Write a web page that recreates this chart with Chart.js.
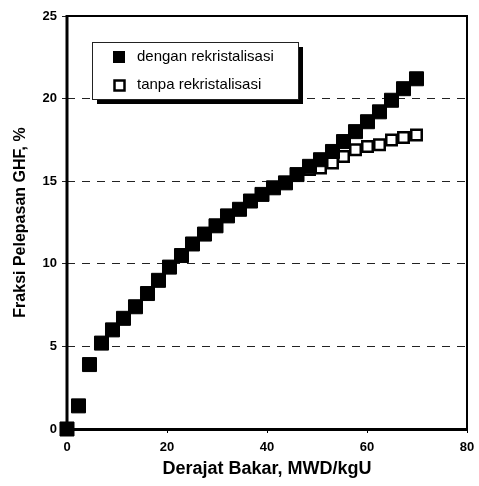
<!DOCTYPE html>
<html>
<head>
<meta charset="utf-8">
<script src="https://cdn.jsdelivr.net/npm/chart.js@4/dist/chart.umd.min.js"></script>
<style>
  html, body { margin: 0; padding: 0; background: #fff; }
  canvas { display: block; }
</style>
</head>
<body>
<canvas id="grafik" width="479" height="486"></canvas>
<script>
// derajat bakar (MWD/kgU)
const derajatBakar = [0, 2.3, 4.5, 6.9, 9.1, 11.3, 13.7, 16.1, 18.3, 20.5, 22.9,
    25.1, 27.5, 29.8, 32.1, 34.5, 36.7, 39.0, 41.3, 43.7, 46.0,
    48.5, 50.7, 53.1, 55.3, 57.7, 60.1, 62.5, 64.9, 67.3, 69.9];

// fraksi pelepasan GHF (%) dengan rekristalisasi
const denganRekristalisasi = [0, 1.4, 3.9, 5.2, 6.0, 6.7, 7.4, 8.2, 9.0, 9.8, 10.5,
    11.2, 11.8, 12.3, 12.9, 13.3, 13.8, 14.2, 14.6, 14.9, 15.4,
    15.9, 16.3, 16.8, 17.4, 18.0, 18.6, 19.2, 19.9, 20.6, 21.2];

// fraksi pelepasan GHF (%) tanpa rekristalisasi
const tanpaRekristalisasi = [0, 1.4, 3.9, 5.2, 6.0, 6.7, 7.4, 8.2, 9.0, 9.8, 10.5,
    11.2, 11.8, 12.3, 12.9, 13.3, 13.8, 14.2, 14.6, 14.9, 15.4,
    15.7, 15.8, 16.1, 16.5, 16.9, 17.1, 17.2, 17.5, 17.65, 17.8];

const labelSeri = ['dengan rekristalisasi', 'tanpa rekristalisasi'];
const xTicks = [0, 20, 40, 60, 80];
const yTicks = [0, 5, 10, 15, 20, 25];

const FONT = "'Liberation Sans', Arial, sans-serif";

function toPoints(xs, ys) {
    return xs.map((x, i) => ({ x: x, y: ys[i] }));
}

// kotak plot: garis sumbu kiri tebal, atas dan kanan
const bingkaiPlot = {
    id: 'bingkaiPlot',
    beforeDatasetsDraw(chart) {
        const { ctx, chartArea: a } = chart;
        ctx.save();
        ctx.setLineDash([]);
        ctx.strokeStyle = '#000';
        ctx.lineWidth = 2;
        ctx.beginPath();
        ctx.moveTo(a.left, a.top);
        ctx.lineTo(a.right, a.top);
        ctx.lineTo(a.right, a.bottom);
        ctx.stroke();
        ctx.lineWidth = 3;
        ctx.beginPath();
        ctx.moveTo(a.left, a.top - 1);
        ctx.lineTo(a.left, a.bottom + 1.5);
        ctx.stroke();
        ctx.restore();
    }
};

// legenda dengan bayangan
const legendaBayangan = {
    id: 'legendaBayangan',
    afterDraw(chart) {
        const ctx = chart.ctx;
        const x = 92, y = 42, w = 206, h = 57;
        ctx.save();
        ctx.fillStyle = '#000';
        ctx.fillRect(x + 5, y + 5, w, h);
        ctx.fillStyle = '#fff';
        ctx.fillRect(x, y, w, h);
        ctx.strokeStyle = '#222';
        ctx.lineWidth = 1;
        ctx.strokeRect(x + 0.5, y + 0.5, w, h);

        ctx.fillStyle = '#000';
        ctx.fillRect(113, 51, 12, 12);
        ctx.lineWidth = 2.5;
        ctx.strokeStyle = '#000';
        ctx.strokeRect(114.5, 80.5, 10, 10);

        ctx.font = '15px ' + FONT;
        ctx.textBaseline = 'middle';
        ctx.fillText(labelSeri[0], 137, 57);
        ctx.fillText(labelSeri[1], 137, 85);
        ctx.restore();
    }
};

const ctx = document.getElementById('grafik').getContext('2d');
const chart = new Chart(ctx, {
    type: 'scatter',
    data: {
        datasets: [{
            label: labelSeri[0],
            data: toPoints(derajatBakar, denganRekristalisasi),
            pointStyle: 'rect',
            pointRadius: 9.9,
            pointHoverRadius: 9.9,
            backgroundColor: '#000',
            borderColor: '#000',
            borderWidth: 1,
            clip: false
        }, {
            label: labelSeri[1],
            data: toPoints(derajatBakar, tanpaRekristalisasi),
            pointStyle: 'rect',
            pointRadius: 7.4,
            pointHoverRadius: 7.4,
            backgroundColor: '#fff',
            borderColor: '#000',
            borderWidth: 2.5,
            clip: false
        }]
    },
    options: {
        responsive: false,
        animation: false,
        layout: { padding: { top: 16, right: 12, left: 0, bottom: 0 } },
        plugins: {
            legend: { display: false },
            tooltip: { enabled: false }
        },
        scales: {
            x: {
                type: 'linear',
                min: 0,
                max: 80,
                afterFit(scale) {
                    scale.height = 57;
                    scale.paddingLeft = 0;
                    scale.paddingRight = 0;
                },
                afterBuildTicks(scale) { scale.ticks = xTicks.map(v => ({ value: v })); },
                border: { color: '#000', width: 3 },
                grid: {
                    drawOnChartArea: false,
                    tickLength: 4,
                    tickColor: '#000',
                    tickWidth: 1
                },
                ticks: {
                    padding: 7,
                    color: '#000',
                    maxRotation: 0,
                    font: { family: FONT, size: 13, weight: 'bold' }
                },
                title: {
                    display: true,
                    text: 'Derajat Bakar, MWD/kgU',
                    color: '#000',
                    padding: { bottom: 6 },
                    font: { family: FONT, size: 18, weight: 'bold' }
                }
            },
            y: {
                type: 'linear',
                min: 0,
                max: 25,
                afterFit(scale) {
                    scale.width = 67;
                    scale.paddingTop = 0;
                    scale.paddingBottom = 0;
                },
                afterBuildTicks(scale) { scale.ticks = yTicks.map(v => ({ value: v })); },
                border: { display: false, dash: [8, 7] },
                grid: {
                    color: c => (c.tick && (c.tick.value === 0 || c.tick.value === 25)) ? 'rgba(0,0,0,0)' : '#222',
                    lineWidth: 1,
                    tickLength: 5,
                    tickColor: '#222',
                    tickBorderDash: [5, 0]
                },
                ticks: {
                    padding: 5,
                    color: '#000',
                    font: { family: FONT, size: 13, weight: 'bold' }
                },
                title: {
                    display: true,
                    text: 'Fraksi Pelepasan GHF, %',
                    color: '#000',
                    padding: { top: 11 },
                    font: { family: FONT, size: 16, weight: 'bold' }
                }
            }
        }
    },
    plugins: [bingkaiPlot, legendaBayangan]
});
</script>
</body>
</html>
